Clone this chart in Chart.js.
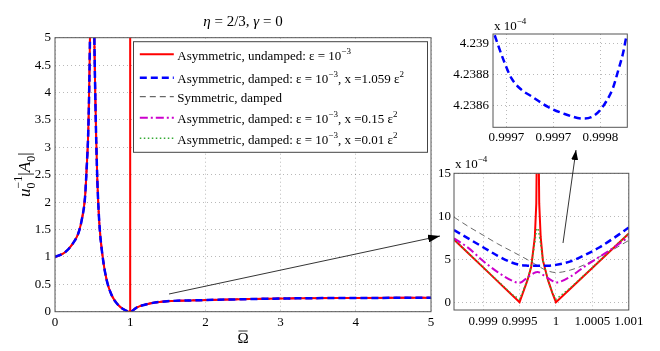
<!DOCTYPE html>
<html>
<head>
<meta charset="utf-8">
<script src="https://cdn.jsdelivr.net/npm/chart.js@4/dist/chart.umd.min.js"></script>
<style>
  body { margin: 0; background: #fff; }
  #wrap { position: relative; width: 660px; height: 351px; overflow: hidden; }
  #wrap canvas, #wrap svg { position: absolute; }
</style>
</head>
<body>
<div id="wrap">
  <canvas id="main_chart" width="440" height="351" style="left:0;top:0"></canvas>
  <canvas id="zoom_chart" width="230" height="211" style="left:430px;top:140px"></canvas>
  <canvas id="detail_chart" width="220" height="150" style="left:440px;top:0"></canvas>
  <svg width="660" height="351" style="left:0;top:0">
    <defs>
      <marker id="head1" markerWidth="12" markerHeight="8" refX="12" refY="4" orient="auto" markerUnits="userSpaceOnUse">
        <polygon points="0 0, 12 4, 0 8" fill="#000"/>
      </marker>
      <marker id="head2" markerWidth="10" markerHeight="7" refX="10" refY="3.5" orient="auto" markerUnits="userSpaceOnUse">
        <polygon points="0 0, 10 3.5, 0 7" fill="#000"/>
      </marker>
    </defs>
    <line x1="169" y1="294" x2="440" y2="236" stroke="#000" stroke-width="0.8" marker-end="url(#head1)"/>
    <line x1="563" y1="243" x2="576" y2="150" stroke="#000" stroke-width="0.8" marker-end="url(#head2)"/>
  </svg>
</div>
<script>
// ---- data ----
const seriesLabels = [
  "Asymmetric, undamped: ε = 10^{−3}",
  "Asymmetric, damped: ε = 10^{−3}, x =1.059 ε^{2}",
  "Symmetric, damped",
  "Asymmetric, damped: ε = 10^{−3}, x =0.15 ε^{2}",
  "Asymmetric, damped: ε = 10^{−3}, x =0.01 ε^{2}",
];

// full range, Omega from 0 to 5
const mainOmega = [0, 0.13, 0.24, 0.31, 0.355, 0.4, 0.42, 0.443, 0.457, 0.465, 0.475, 0.494, 0.512,
  0.523, 0.532, 0.545, 0.563, 0.59, 0.634, 0.687, 0.754, 0.842, 0.931, 0.9995, 0.99975, 1.0,
  1.09, 1.26, 1.49, 1.93, 2.59, 3.26, 4.0, 5.0];
const ampUndamped = [1.0, 1.08, 1.25, 1.43, 1.67, 2.1, 2.59, 3.32, 4.23, 5.0, 8, 60, 8,
  5.0, 4.23, 3.32, 2.4, 1.61, 1.0, 0.58, 0.3, 0.12, 0.03, 0, 60, 0,
  0.08, 0.15, 0.19, 0.21, 0.23, 0.245, 0.25, 0.255];
const ampDamped = [1.0, 1.08, 1.25, 1.43, 1.67, 2.1, 2.59, 3.32, 4.23, 5.0, 8, 60, 8,
  5.0, 4.23, 3.32, 2.4, 1.61, 1.0, 0.58, 0.3, 0.12, 0.03, 0.0004, 0.0004, 0.0004,
  0.08, 0.15, 0.19, 0.21, 0.23, 0.245, 0.25, 0.255];

// zoom near Omega = 1 (values x 1e-4)
const zoomOmega = [0.9986, 0.9988, 0.999, 0.9992, 0.9994, 0.9995, 0.99961, 0.99966, 0.99971, 0.99973,
  0.99974, 0.99975, 0.99976, 0.99977, 0.99979, 0.99982, 0.99989, 0.99995, 1.0, 1.0002, 1.0004,
  1.0006, 1.0008, 1.001];
const zoomUndamped = [7.3, 5.68, 4.06, 2.43, 0.81, 0, 2.6, 4.1, 7.6, 11.5,
  20, 40, 20, 11.5, 7.6, 4.9, 2.6, 1.1, 0, 1.6, 3.2,
  4.8, 6.4, 8.0];
const zoomDampedHigh = [8.4, 7.4, 6.4, 5.4, 4.6, 4.35, 4.26, 4.245, 4.24, 4.239,
  4.2388, 4.2387, 4.2386, 4.2385, 4.2385, 4.239, 4.25, 4.3, 4.35, 4.75, 5.5,
  6.4, 7.5, 8.7];
const zoomSymmetric = [9.9, 8.8, 7.8, 6.8, 5.9, 5.45, 4.95, 4.7, 4.45, 4.35,
  4.3, 4.25, 4.2, 4.15, 4.05, 3.9, 3.65, 3.5, 3.45, 3.75, 4.4,
  5.3, 6.2, 7.2];
const zoomDampedMid = [7.45, 6.3, 4.8, 3.5, 2.5, 2.25, 2.9, 3.2, 3.45, 3.5,
  3.52, 3.52, 3.5, 3.48, 3.4, 3.2, 2.8, 2.5, 2.3, 3.0, 4.2,
  5.3, 6.4, 7.6];
const zoomDampedLow = [7.3, 5.7, 4.1, 2.5, 0.9, 0.35, 2.6, 4.2, 7.0, 8.3,
  8.6, 8.6, 8.4, 7.8, 6.8, 4.9, 2.6, 1.1, 0.35, 1.7, 3.25,
  4.85, 6.45, 8.0];

// detail of the damped minimum (values x 1e-4)
const detailOmega = [0.9996877, 0.999693, 0.9996983, 0.9997053, 0.999716, 0.9997266, 0.9997444,
  0.9997621, 0.9997816, 0.9997904, 0.9997994, 0.9998064, 0.9998135, 0.9998188, 0.9998242, 0.9998277];
const detailDamped = [4.239057, 4.238963, 4.238876, 4.238778, 4.238702, 4.238659, 4.238589,
  4.238543, 4.238513, 4.238522, 4.238565, 4.238626, 4.238713, 4.238822, 4.238941, 4.23905];

const mainXTicks = [0, 1, 2, 3, 4, 5];
const mainYTicks = [0, 0.5, 1, 1.5, 2, 2.5, 3, 3.5, 4, 4.5, 5];
const zoomXTicks = [0.999, 0.9995, 1, 1.0005, 1.001];
const zoomXLabels = ["0.999", "0.9995", "1", "1.0005", "1.001"];
const zoomYTicks = [0, 5, 10, 15];
const detailXTicks = [0.9997, 0.99975, 0.9998];
const detailXLabels = ["0.9997", "0.9997", "0.9998"];
const detailYTicks = [4.2386, 4.2388, 4.239];
const detailYLabels = ["4.2386", "4.2388", "4.239"];

// ---- styles ----
const FONT = '"Liberation Serif", "Times New Roman", serif';
const styles = [
  { color: "#ff0000", width: 2, dash: [] },
  { color: "#0000ff", width: 2.5, dash: [7, 4] },
  { color: "#444444", width: 0.8, dash: [6, 4] },
  { color: "#cc00cc", width: 2, dash: [8, 3, 2, 3] },
  { color: "#33aa33", width: 1.5, dash: [1.5, 2.5] },
];

Chart.defaults.font.family = FONT;
Chart.defaults.color = "#000";

const makeSet = (i, xs, ys, order, smooth) => ({
  label: seriesLabels[i],
  data: xs.map((x, k) => ({ x: x, y: ys[k] })),
  borderColor: styles[i].color,
  borderWidth: styles[i].width,
  borderDash: styles[i].dash,
  pointRadius: 0,
  fill: false,
  order: order,
  tension: 0,
  cubicInterpolationMode: smooth ? "monotone" : "default",
});

// small rich text: ^{sup}, _{sub}, $italic$
const richParts = (str) => {
  const parts = [];
  const re = /\^\{([^}]*)\}|_\{([^}]*)\}|\$([^$]*)\$/g;
  let last = 0, m;
  while ((m = re.exec(str))) {
    if (m.index > last) parts.push({ t: str.slice(last, m.index), k: "n" });
    if (m[1] !== undefined) parts.push({ t: m[1], k: "sup" });
    else if (m[2] !== undefined) parts.push({ t: m[2], k: "sub" });
    else parts.push({ t: m[3], k: "it" });
    last = re.lastIndex;
  }
  if (last < str.length) parts.push({ t: str.slice(last), k: "n" });
  return parts;
};

const drawRich = (ctx, str, x, y, size, align, ratio) => {
  const parts = richParts(str);
  const small = Math.round(size * (ratio || 0.7));
  const fontOf = (k) => (k === "it" ? "italic " : "") + (k === "sup" || k === "sub" ? small : size) + "px " + FONT;
  parts.forEach((p) => { ctx.font = fontOf(p.k); p.w = ctx.measureText(p.t).width; });
  // stacked sub+sup
  let total = 0;
  for (let i = 0; i < parts.length; i++) {
    const p = parts[i], n = parts[i + 1];
    if (p.k === "sub" && n && n.k === "sup") { p.adv = 0; n.adv = Math.max(p.w, n.w); i++; total += n.adv; }
    else { p.adv = p.w; total += p.w; }
  }
  let cx = align === "center" ? x - total / 2 : x;
  ctx.textAlign = "left";
  ctx.textBaseline = "alphabetic";
  parts.forEach((p) => {
    ctx.font = fontOf(p.k);
    const dy = p.k === "sup" ? -size * 0.45 : p.k === "sub" ? size * 0.28 : 0;
    ctx.fillText(p.t, cx, y + dy);
    cx += p.adv;
  });
};

const gridOpts = { color: "rgba(0,0,0,0.35)", drawTicks: false, lineWidth: 0.8 };
const borderOpts = { display: false, dash: [1, 3] };

const axis = (min, max, values, labels, size, pad, isX) => ({
  type: "linear",
  min: min,
  max: max,
  grid: gridOpts,
  border: borderOpts,
  afterBuildTicks: (s) => { s.ticks = values.map((v) => ({ value: v })); },
  afterFit: (s) => { if (isX) s.height = size; else s.width = size; },
  ticks: {
    font: { size: 13, family: FONT },
    color: "#000",
    padding: pad,
    maxRotation: 0,
    autoSkip: false,
    callback: (v, i) => (labels ? labels[i] : String(v)),
  },
});

const drawBox = (chart) => {
  const { ctx, chartArea: a } = chart;
  ctx.save();
  ctx.setLineDash([]);
  ctx.strokeStyle = "#555";
  ctx.lineWidth = 1;
  ctx.strokeRect(a.left, a.top, a.right - a.left, a.bottom - a.top);
  ctx.restore();
};

// ---- main chart ----
const mainDecor = {
  id: "mainDecor",
  afterDraw(chart) {
    const { ctx, chartArea: a } = chart;
    drawBox(chart);
    ctx.save();
    ctx.fillStyle = "#000";
    const midX = (a.left + a.right) / 2;
    drawRich(ctx, "$η$ = 2/3, $γ$ = 0", midX, 25.7, 15, "center");
    // x label: Omega bar
    ctx.font = "15px " + FONT;
    ctx.textAlign = "center";
    ctx.textBaseline = "alphabetic";
    ctx.fillText("Ω", midX, 343);
    const w = ctx.measureText("Ω").width;
    ctx.strokeStyle = "#000";
    ctx.lineWidth = 0.8;
    ctx.beginPath();
    ctx.moveTo(midX - w / 2 + 1, 331);
    ctx.lineTo(midX + w / 2 - 1, 331);
    ctx.stroke();
    // y label
    ctx.save();
    ctx.translate(30, (a.top + a.bottom) / 2);
    ctx.rotate(-Math.PI / 2);
    drawRich(ctx, "$u$_{0}^{−1}|$A$_{0}|", 0, 0, 17, "center", 0.72);
    ctx.restore();
    // legend
    const lw = 294, lh = 110.6;
    const lx = a.right - 3.5 - lw, ly = a.top + 4;
    ctx.fillStyle = "#fff";
    ctx.fillRect(lx, ly, lw, lh);
    ctx.strokeStyle = "#444";
    ctx.lineWidth = 1;
    ctx.strokeRect(lx, ly, lw, lh);
    const rows = [12.6, 36, 55, 76, 96.6];
    rows.forEach((r, i) => {
      const y = ly + r;
      ctx.strokeStyle = styles[i].color;
      ctx.lineWidth = Math.max(styles[i].width, 1);
      ctx.setLineDash(styles[i].dash);
      ctx.beginPath();
      ctx.moveTo(lx + 6.3, y);
      ctx.lineTo(lx + 40.3, y);
      ctx.stroke();
      ctx.setLineDash([]);
      ctx.fillStyle = "#000";
      drawRich(ctx, seriesLabels[i], lx + 43.8, y + 5.5, 13, "left");
    });
    ctx.restore();
  },
};

new Chart(document.getElementById("main_chart").getContext("2d"), {
  type: "line",
  data: {
    datasets: [
      makeSet(0, mainOmega, ampUndamped, 2, true),
      makeSet(1, mainOmega, ampDamped, 1, true),
      makeSet(2, mainOmega, ampDamped, 3, true),
      makeSet(3, mainOmega, ampDamped, 4, true),
      makeSet(4, mainOmega, ampDamped, 5, true),
    ],
  },
  options: {
    responsive: false,
    animation: false,
    devicePixelRatio: 1,
    layout: { padding: { top: 37.7, right: 9, left: 0, bottom: 0 } },
    plugins: { legend: { display: false }, tooltip: { enabled: false } },
    scales: {
      x: axis(0, 5, mainXTicks, null, 39.3, 3, true),
      y: axis(0, 5, mainYTicks, null, 55, 4, false),
    },
  },
  plugins: [mainDecor],
});

// ---- zoom chart ----
const scaleNote = (dy) => ({
  id: "scaleNote",
  afterDraw(chart) {
    const { ctx, chartArea: a } = chart;
    drawBox(chart);
    ctx.save();
    ctx.fillStyle = "#000";
    drawRich(ctx, "x 10^{−4}", a.left + 1, a.top - dy, 13, "left");
    ctx.restore();
  },
});

new Chart(document.getElementById("zoom_chart").getContext("2d"), {
  type: "line",
  data: {
    datasets: [
      makeSet(0, zoomOmega, zoomUndamped, 4, false),
      makeSet(1, zoomOmega, zoomDampedHigh, 1, true),
      makeSet(2, zoomOmega, zoomSymmetric, 5, true),
      makeSet(3, zoomOmega, zoomDampedMid, 2, true),
      makeSet(4, zoomOmega, zoomDampedLow, 3, false),
    ],
  },
  options: {
    responsive: false,
    animation: false,
    devicePixelRatio: 1,
    layout: { padding: { top: 33.3, right: 31.2, left: 0, bottom: 0 } },
    plugins: { legend: { display: false }, tooltip: { enabled: false } },
    scales: {
      x: axis(0.9986, 1.001, zoomXTicks, zoomXLabels, 41, 4, true),
      y: axis(-0.9, 15, zoomYTicks, null, 24, 3, false),
    },
  },
  plugins: [scaleNote(5)],
});

// ---- detail chart ----
new Chart(document.getElementById("detail_chart").getContext("2d"), {
  type: "line",
  data: {
    datasets: [makeSet(1, detailOmega, detailDamped, 1, true)],
  },
  options: {
    responsive: false,
    animation: false,
    devicePixelRatio: 1,
    layout: { padding: { top: 34, right: 32.7, left: 0, bottom: 0 } },
    plugins: { legend: { display: false }, tooltip: { enabled: false } },
    scales: {
      x: axis(0.9996859, 0.9998287, detailXTicks, detailXLabels, 22.7, 2, true),
      y: axis(4.238456, 4.239065, detailYTicks, detailYLabels, 53, 4, false),
    },
  },
  plugins: [scaleNote(4.5)],
});
</script>
</body>
</html>
